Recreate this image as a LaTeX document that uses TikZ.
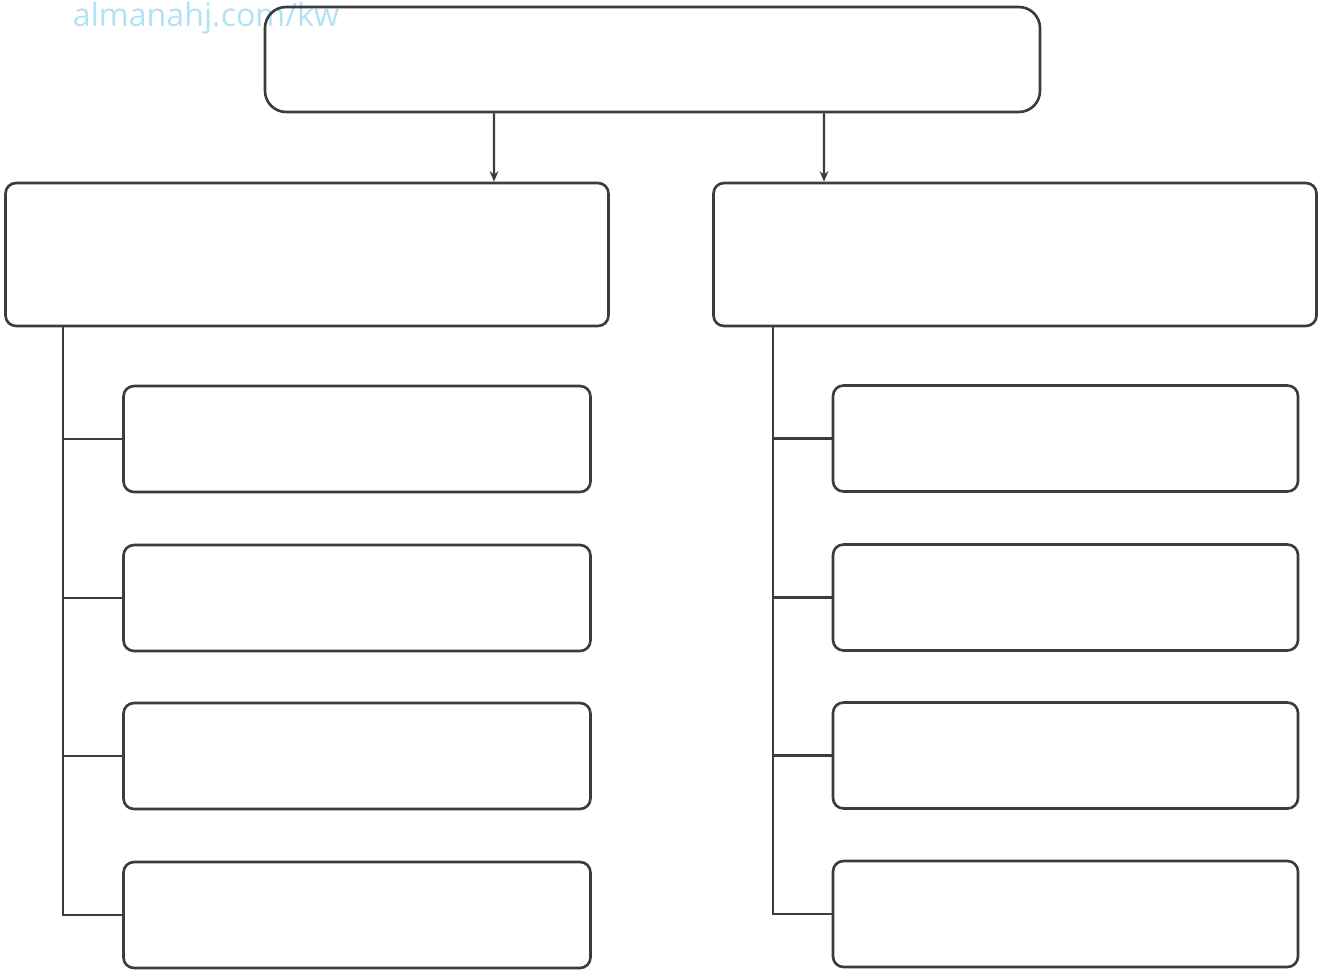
\documentclass[tikz,border=0pt]{standalone}
\usepackage{fontspec}
\newfontfamily\markfont{Open Sans}
\usepackage{xcolor}
\usetikzlibrary{positioning,arrows.meta}
\definecolor{edgegray}{RGB}{60,60,60}
\definecolor{markblue}{RGB}{178,226,245}

\begin{document}
\begin{tikzpicture}[
  topbox/.style={
    rectangle, draw=edgegray, line width=1.5pt, rounded corners=12pt,
    minimum width=15.5cm, minimum height=2.1cm
  },
  midbox/.style={
    rectangle, draw=edgegray, line width=1.5pt, rounded corners=6pt,
    minimum width=12.06cm, minimum height=2.86cm
  },
  itembox/.style={
    rectangle, draw=edgegray, line width=1.5pt, rounded corners=6pt,
    minimum width=9.34cm, minimum height=2.12cm
  },
  arr/.style={-{Stealth[length=6pt,width=5pt]}, line width=1.2pt, edgegray},
  link/.style={line width=1.2pt, edgegray}
]
\useasboundingbox (0,0) rectangle (26.42,-19.4);

% Watermark
\node[font=\markfont\fontsize{18.3}{18}\selectfont, text=markblue] (mark) at (4.12,-0.36) {almanahj.com/kw};

% Top box
\node[topbox] (top) at (13.05,-1.19) {};

% Second level
\node[midbox] (L) at (6.14,-5.09) {};
\node[midbox] (R) at (20.30,-5.09) {};

% Items, left column
\node[itembox] (L1) at (7.14,-8.78) {};
\node[itembox] (L2) at (7.14,-11.96) {};
\node[itembox] (L3) at (7.14,-15.12) {};
\node[itembox] (L4) at (7.14,-18.30) {};

% Items, right column
\node[itembox, minimum width=9.3cm] (R1) at (21.31,-8.77) {};
\node[itembox, minimum width=9.3cm] (R2) at (21.31,-11.95) {};
\node[itembox, minimum width=9.3cm] (R3) at (21.31,-15.11) {};
\node[itembox, minimum width=9.3cm] (R4) at (21.31,-18.28) {};

% Arrows from the top box
\draw[arr] ([xshift=-3.17cm]top.south) -- ([xshift=3.74cm]L.north);
\draw[arr] ([xshift=3.43cm]top.south) -- ([xshift=-3.82cm]R.north);

% Left spine
\coordinate (Lspine) at ([xshift=-4.88cm]L.south);
\draw[link] (Lspine) |- (L4.west);
\draw[link] (L1.west) -- (L1.west -| Lspine);
\draw[link] (L2.west) -- (L2.west -| Lspine);
\draw[link] (L3.west) -- (L3.west -| Lspine);

% Right spine
\coordinate (Rspine) at ([xshift=-4.84cm]R.south);
\draw[link] (Rspine) |- (R4.west);
\draw[link] (R1.west) -- (R1.west -| Rspine);
\draw[link] (R2.west) -- (R2.west -| Rspine);
\draw[link] (R3.west) -- (R3.west -| Rspine);

\end{tikzpicture}
\end{document}
